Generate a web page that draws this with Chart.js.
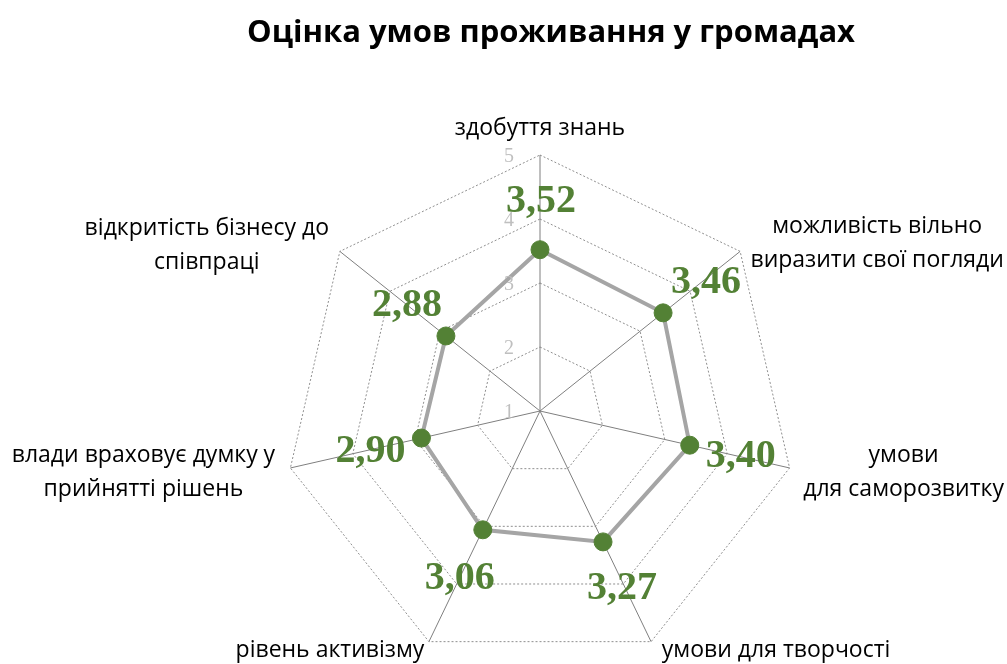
<!DOCTYPE html>
<html>
<head>
<meta charset="utf-8">
<script src="https://cdn.jsdelivr.net/npm/chart.js@4/dist/chart.umd.min.js"></script>
<style>
  html, body { margin: 0; padding: 0; background: #fff; overflow: hidden; }
  #wrap { position: relative; width: 1007px; height: 680px; }
</style>
</head>
<body>
<div id="wrap"><canvas id="radar"></canvas></div>
<script>
const title = "Оцінка умов проживання у громадах";
const categories = [
  ["здобуття знань"],
  ["можливість вільно", "виразити свої погляди"],
  ["умови", "для саморозвитку"],
  ["умови для творчості"],
  ["рівень активізму"],
  ["влади враховує думку у", "прийнятті рішень"],
  ["відкритість бізнесу до", "співпраці"]
];
const scores = [3.52, 3.46, 3.40, 3.27, 3.06, 2.90, 2.88];
const tickLabels = [1, 2, 3, 4, 5];

// offsets of category labels from the outer vertex, and of value labels from the point
const catOffsets = [[0, -27], [137, -8], [114, 4], [125, 9], [-99, 9], [-147, 4], [-133, -6]];
const valOffsets = [[1, -48], [43, -30], [51, 11], [19, 47], [-23, 49], [-51, 14], [-39, -30]];

const green = "#538135";

const overlay = {
  id: "overlay",
  afterDraw(chart) {
    const ctx = chart.ctx;
    const r = chart.scales.r;
    ctx.save();
    ctx.textAlign = "center";
    ctx.textBaseline = "middle";

    // title
    ctx.fillStyle = "#000";
    ctx.font = "bold 31px 'Open Sans'";
    ctx.fillText(title, 551, 33);

    // tick labels, left of the vertical axis
    ctx.font = "20px 'Liberation Serif'";
    ctx.fillStyle = "#bfbfbf";
    tickLabels.forEach(v => {
      const d = r.getDistanceFromCenterForValue(v);
      ctx.fillText(String(v), r.xCenter - 31, r.yCenter - d + 2);
    });

    // category labels
    ctx.font = "23px 'Open Sans'";
    ctx.fillStyle = "#000";
    categories.forEach((lines, i) => {
      const p = r.getPointPosition(i, r.drawingArea);
      const cx = p.x + catOffsets[i][0];
      const cy = p.y + catOffsets[i][1];
      const lh = 34;
      lines.forEach((t, k) => {
        ctx.fillText(t, cx, cy + (k - (lines.length - 1) / 2) * lh);
      });
    });

    // value labels
    ctx.font = "bold 40px 'Liberation Serif'";
    ctx.fillStyle = green;
    const meta = chart.getDatasetMeta(0);
    meta.data.forEach((pt, i) => {
      const txt = scores[i].toFixed(2).replace(".", ",");
      ctx.fillText(txt, pt.x + valOffsets[i][0], pt.y + valOffsets[i][1]);
    });
    ctx.restore();
  }
};

new Chart(document.getElementById("radar"), {
  type: "radar",
  data: {
    labels: categories,
    datasets: [{
      data: scores,
      borderColor: "#a5a5a5",
      borderWidth: 4,
      backgroundColor: "rgba(0,0,0,0)",
      fill: false,
      pointRadius: 9,
      pointHoverRadius: 9,
      pointBackgroundColor: green,
      pointBorderColor: green,
      pointBorderWidth: 1
    }]
  },
  options: {
    responsive: true,
    maintainAspectRatio: false,
    animation: false,
    layout: { padding: { top: 155, bottom: 680 - 667, left: 284, right: 1007 - 796 } },
    plugins: {
      legend: { display: false },
      title: { display: false },
      tooltip: { enabled: false }
    },
    scales: {
      r: {
        min: 1,
        max: 5,
        ticks: { display: false, stepSize: 1 },
        pointLabels: { display: false },
        grid: { color: "#8f8f8f", lineWidth: 1 },
        border: { dash: [2, 2] },
        angleLines: { color: "#7f7f7f", lineWidth: 1 }
      }
    }
  },
  plugins: [overlay]
});
</script>
</body>
</html>
